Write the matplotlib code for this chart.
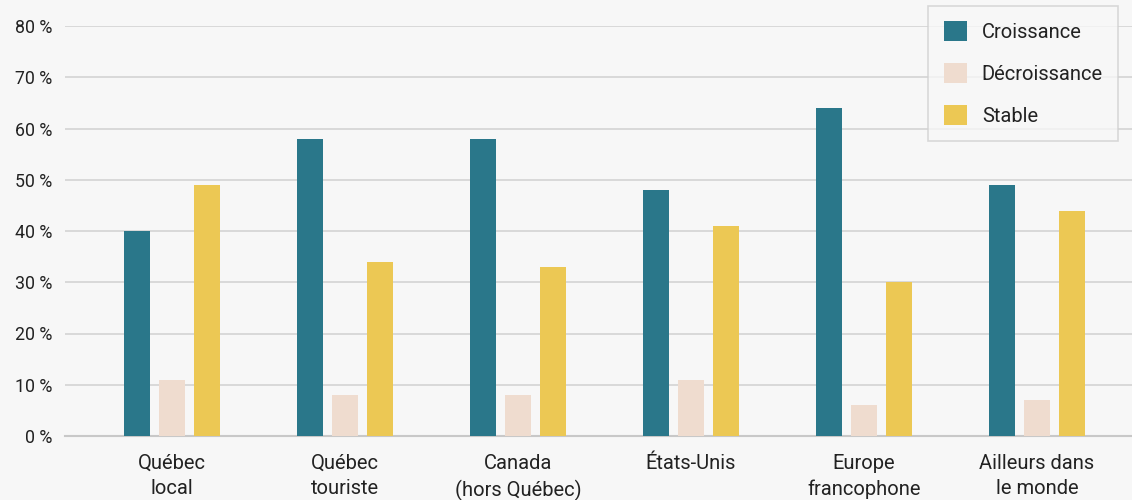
import matplotlib
matplotlib.use("Agg")
import matplotlib.pyplot as plt
import numpy as np
from matplotlib.patches import Patch

categories = ["Québec\nlocal", "Québec\ntouriste", "Canada\n(hors Québec)", "États-Unis", "Europe\nfrancophone", "Ailleurs dans\nle monde"]
croissance = [40, 58, 58, 48, 64, 49]
decroissance = [11, 8, 8, 11, 6, 7]
stable = [49, 34, 33, 41, 30, 44]
series_names = ["Croissance", "Décroissance", "Stable"]
colors = ["#2a778a", "#efdccf", "#ecc854"]
yticks = [0, 10, 20, 30, 40, 50, 60, 70, 80]

plt.rcParams['font.family'] = ['Roboto', 'DejaVu Sans']
fig = plt.figure(figsize=(11.32, 5.0), dpi=100, facecolor="#f7f7f7")
ax = fig.add_axes([65/1132, 64/500, 1 - 65/1132, 410/500])
ax.set_facecolor("#f7f7f7")

x = np.arange(len(categories))
w = 0.15
off = 0.202
for i, (vals, c) in enumerate(zip([croissance, decroissance, stable], colors)):
    ax.bar(x + (i - 1) * off, vals, width=w, color=c, zorder=3)

ax.set_ylim(0, 80)
ax.set_xlim(-0.62, 5.55)
ax.set_yticks(yticks)
ax.set_yticklabels([f"{v} %" for v in yticks], fontsize=12.8)
ax.set_xticks(x)
ax.set_xticklabels(categories, fontsize=14.5, linespacing=1.4)
ax.tick_params(axis='both', length=0, colors="#222222")
ax.tick_params(axis='y', pad=9)
ax.tick_params(axis='x', pad=13)
ax.yaxis.grid(True, color="#d4d4d4", linewidth=1.2, zorder=0)
ax.set_axisbelow(True)
for s in ["top", "right", "left"]:
    ax.spines[s].set_visible(False)
ax.spines["bottom"].set_color("#c8c8c8")
ax.spines["bottom"].set_linewidth(1.5)

handles = [Patch(facecolor=c, edgecolor="none") for c in colors]
leg = ax.legend(handles, series_names + [], loc="upper right", bbox_to_anchor=(1 - 14/1067, 1 + 20/410),
                fontsize=14.5, frameon=True, fancybox=False, handlelength=1.15, handleheight=1.15,
                labelspacing=1.05, borderpad=0.75, handletextpad=0.75, borderaxespad=0)
leg.get_frame().set_facecolor("#f7f7f7")
leg.get_frame().set_edgecolor("#d0d0d0")
leg.get_frame().set_linewidth(1.2)
for t in leg.get_texts():
    t.set_color("#222222")

fig.savefig("out.png", dpi=100, facecolor=fig.get_facecolor())
